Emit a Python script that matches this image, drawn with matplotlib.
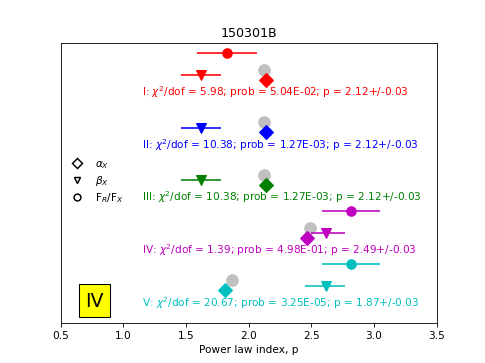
import matplotlib
matplotlib.use('Agg')
import matplotlib.pyplot as plt
from matplotlib.lines import Line2D

# group labels, colours and fit results (top to bottom)
groups = ['I', 'II', 'III', 'IV', 'V']
colors = ['r', 'b', 'g', 'm', 'c']
levels = [5, 4, 3, 2, 1]
chi2 = [5.98, 10.38, 10.38, 1.39, 20.67]
probs = ['5.04E-02', '1.27E-03', '1.27E-03', '4.98E-01', '3.25E-05']
p_fit = [2.12, 2.12, 2.12, 2.49, 1.87]
p_err = [0.03, 0.03, 0.03, 0.03, 0.03]

# p from alpha_X (diamonds)
p_alpha = [2.14, 2.14, 2.14, 2.47, 1.81]
# p from beta_X (triangles) with errors
p_beta = [1.62, 1.62, 1.62, 2.62, 2.62]
p_beta_lo = [0.16, 0.16, 0.16, 0.12, 0.17]
p_beta_hi = [0.16, 0.16, 0.16, 0.15, 0.15]
# p from F_R/F_X (circles), only for some groups
fr_groups = [0, 3, 4]
p_frfx = [1.83, 2.82, 2.82]
p_frfx_err = [0.24, 0.23, 0.23]

fig, ax = plt.subplots(figsize=(6.4, 4.8), dpi=485 / 6.4)

for i, g in enumerate(groups):
    y = levels[i]
    c = colors[i]
    # grey circle: combined fit p
    ax.plot(p_fit[i], y + 0.41, 'o', color='silver', ms=11, zorder=2)
    ax.plot(p_alpha[i], y + 0.22, 'D', color=c, ms=9, zorder=3)
    ax.errorbar(p_beta[i], y + 0.31, xerr=[[p_beta_lo[i]], [p_beta_hi[i]]],
                fmt='v', color=c, ms=9, lw=1.5, zorder=3)
    ax.text(1.15, y, g + r': $\chi^2$/dof = %.2f; prob = %s; p = %.2f+/-%.2f'
            % (chi2[i], probs[i], p_fit[i], p_err[i]),
            color=c, fontsize=10, va='center', ha='left')

for j, k in enumerate(fr_groups):
    ax.errorbar(p_frfx[j], levels[k] + 0.72, xerr=p_frfx_err[j],
                fmt='o', color=colors[k], ms=9, lw=1.5, zorder=3)

handles = [
    Line2D([], [], ls='none', marker='D', mfc='none', mec='k', ms=6.5, mew=1.4),
    Line2D([], [], ls='none', marker='v', mfc='none', mec='k', ms=6.5, mew=1.4),
    Line2D([], [], ls='none', marker='o', mfc='none', mec='k', ms=6.5, mew=1.4),
]
ax.legend(handles, [r'$\alpha_X$', r'$\beta_X$', r'F$_R$/F$_X$'],
          loc='center left', bbox_to_anchor=(-0.01, 0.505), frameon=False,
          fontsize=10, handletextpad=0.7, labelspacing=0.3)

ax.text(0.09, 0.08, 'IV', transform=ax.transAxes, fontsize=18,
        ha='center', va='center',
        bbox=dict(boxstyle='square,pad=0.35', facecolor='yellow', edgecolor='k'))

ax.set_xlim(0.5, 3.5)
ax.set_ylim(0.6, 5.92)
ax.set_yticks([])
ax.set_xlabel('Power law index, p')
ax.set_title('150301B')

plt.savefig('out.png', dpi=485 / 6.4)
